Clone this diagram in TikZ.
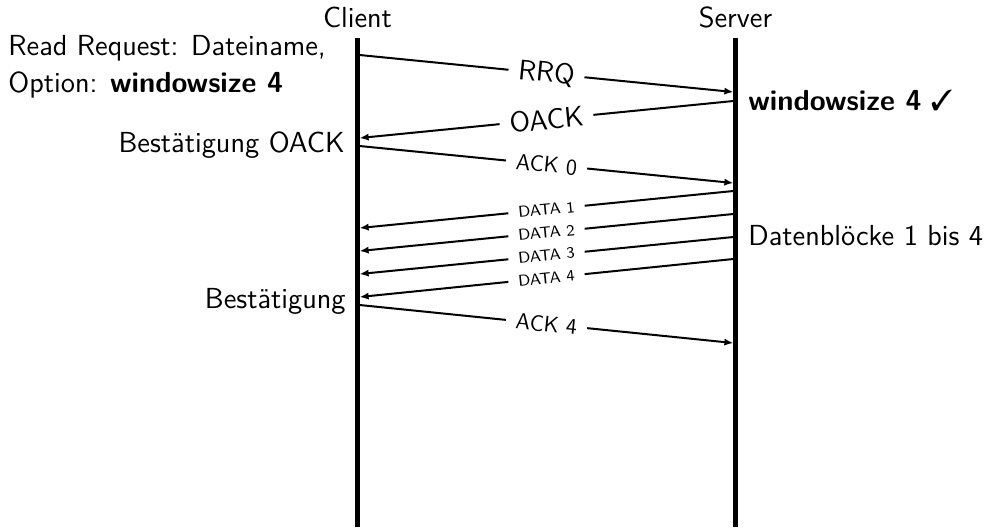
\documentclass[tikz,border=0pt]{standalone}
\usepackage{fontspec}
\usepackage{pifont}
\usetikzlibrary{arrows.meta}
\renewcommand{\familydefault}{\sfdefault}

\tikzset{
  lifeline/.style={line width=2.25pt},
  msg/.style={line width=1pt, -{Latex[length=4.5pt,width=3.6pt]}},
  msglabel/.style={midway, sloped, fill=white, inner xsep=5pt, inner ysep=1pt},
  note/.style={inner sep=0pt, font=\fontsize{14.5}{18}\selectfont},
  head/.style={inner sep=0pt, anchor=base, font=\fontsize{14.5}{18}\selectfont},
  biglabel/.style={font=\fontsize{14.2}{16}\selectfont},
  acklabel/.style={font=\fontsize{11.2}{13}\selectfont},
  datalabel/.style={font=\fontsize{7.9}{9}\selectfont},
}

\begin{document}
\begin{tikzpicture}[x=0.5pt, y=-0.5pt]
  \useasboundingbox (0,0) rectangle (991,527);

  % participants
  \node[head] (client) at (357.5,27) {Client};
  \node[head] (server) at (735.5,27) {Server};

  % lifelines
  \coordinate (ctop) at (357.5,38);
  \coordinate (cbot) at (357.5,527);
  \coordinate (stop) at (735.5,38);
  \coordinate (sbot) at (735.5,527);
  \draw[lifeline] (ctop) -- (cbot);
  \draw[lifeline] (stop) -- (sbot);

  % message end points on the lifeline edges
  \coordinate (c1) at (359.6,55);   \coordinate (s1) at (733.4,92);
  \coordinate (s2) at (733.4,101);  \coordinate (c2) at (359.6,138);
  \coordinate (c3) at (359.6,146);  \coordinate (s3) at (733.4,183);
  \coordinate (s4) at (733.4,191);  \coordinate (c4) at (359.6,228);
  \coordinate (s5) at (733.4,214);  \coordinate (c5) at (359.6,251);
  \coordinate (s6) at (733.4,237);  \coordinate (c6) at (359.6,274);
  \coordinate (s7) at (733.4,259);  \coordinate (c7) at (359.6,297);
  \coordinate (c8) at (359.6,305);  \coordinate (s8) at (733.4,343);

  % messages
  \draw[msg] (c1) -- node[msglabel, biglabel] {RRQ} (s1);
  \draw[msg] (s2) -- node[msglabel, biglabel] {OACK} (c2);
  \draw[msg] (c3) -- node[msglabel, acklabel] {ACK 0} (s3);
  \draw[msg] (s4) -- node[msglabel, datalabel] {DATA 1} (c4);
  \draw[msg] (s5) -- node[msglabel, datalabel] {DATA 2} (c5);
  \draw[msg] (s6) -- node[msglabel, datalabel] {DATA 3} (c6);
  \draw[msg] (s7) -- node[msglabel, datalabel] {DATA 4} (c7);
  \draw[msg] (c8) -- node[msglabel, acklabel] {ACK 4} (s8);

  % annotations
  \node[note, anchor=base west] (req1) at (8,55) {Read Request: Dateiname,};
  \node[note, anchor=base west] (req2) at (8,92) {Option: \textbf{windowsize 4}};
  \node[note, anchor=base east] (ackopt) at (345,152) {Bestätigung OACK};
  \node[note, anchor=base east] (ackfin) at (346,308) {Bestätigung};
  \node[note, anchor=base west] (winok) at (748,110) {\textbf{windowsize 4} \ding{51}};
  \node[note, anchor=base west] (blocks) at (748,245) {Datenblöcke 1 bis 4};
\end{tikzpicture}
\end{document}
